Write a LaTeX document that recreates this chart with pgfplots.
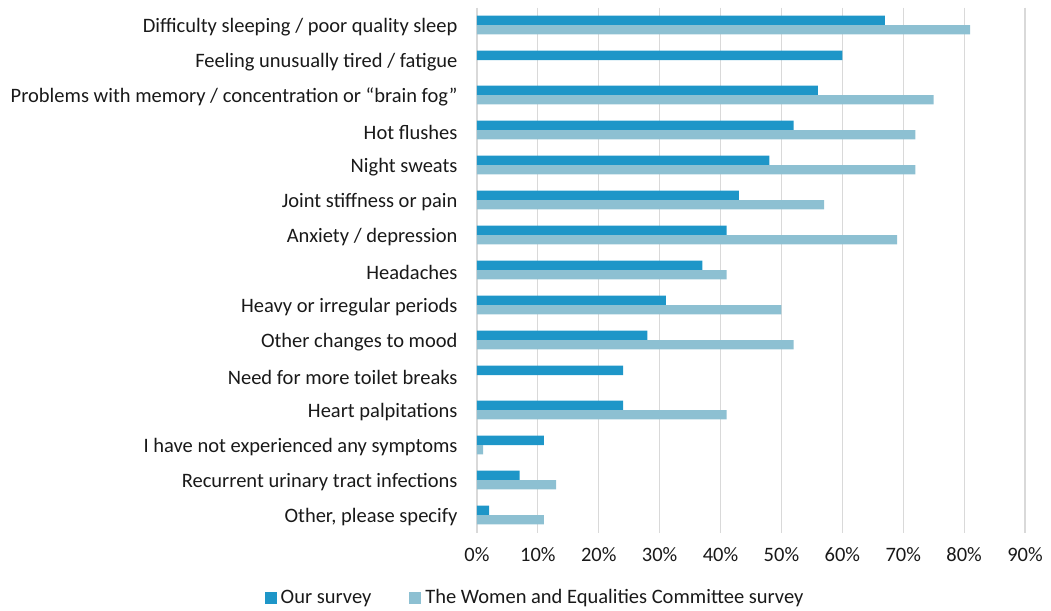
\documentclass[border=0pt]{standalone}
\usepackage{pgfplots}
\pgfplotsset{compat=1.18}
\usepackage{fontspec}
\setmainfont{Carlito}
\usetikzlibrary{calc}
\definecolor{ours}{HTML}{1E96C8}
\definecolor{wec}{HTML}{8DC0D2}
\definecolor{gridc}{HTML}{D9D9D9}
\begin{document}
\begin{tikzpicture}
\begin{axis}[
  name=ax,
  scale only axis,
  width=548pt, height=525pt,
  xmin=0, xmax=90,
  ymin=-0.5, ymax=14.5,
  y dir=reverse,
  axis line style={draw=none},
  xbar, bar width=9.3pt,
  xtick={0,10,...,90},
  xticklabel={\pgfmathprintnumber{\tick}\%},
  /pgf/number format/assume math mode=true,
  ytick={0,...,14},
  yticklabels={Difficulty sleeping / poor quality sleep, Feeling unusually tired / fatigue, Problems with memory / concentration or “brain fog”, Hot flushes, Night sweats, Joint stiffness or pain, Anxiety / depression, Headaches, Heavy or irregular periods, Other changes to mood, Need for more toilet breaks, Heart palpitations, I have not experienced any symptoms, Recurrent urinary tract infections, {Other, please specify}},
  tick label style={font=\fontsize{20.5}{24}\selectfont, text=black!90},
  yticklabel style={xshift=-16pt, yshift=-2pt},
  xticklabel style={yshift=-11pt},
  major tick length=0pt,
  xmajorgrids,
  grid style={gridc, line width=1.2pt},
  legend style={at={(0.106,-0.124)}, anchor=center, draw=none, fill=none,
    font=\fontsize{20.5}{24}\selectfont, text=black!90, legend columns=2,
    /tikz/every odd column/.append style={column sep=2pt},
    /tikz/every even column/.append style={column sep=36pt}},
  legend image code/.code={\fill[#1] (0pt,-6pt) rectangle (12pt,6pt);},
]
\addplot[fill=ours, draw=none, bar shift=4.65pt] coordinates {
(67,0) (60,1) (56,2) (52,3) (48,4) (43,5) (41,6) (37,7) (31,8) (28,9) (24,10) (24,11) (11,12) (7,13) (2,14)};
\addplot[fill=wec, draw=none, bar shift=-4.65pt] coordinates {
(81,0) (75,2) (72,3) (72,4) (57,5) (69,6) (41,7) (50,8) (52,9) (41,11) (1,12) (13,13) (11,14)};
\legend{Our survey, The Women and Equalities Committee survey}
\end{axis}
\pgfresetboundingbox
\path[use as bounding box] ($(ax.south west)+(-477pt,-77.5pt)$) rectangle ++(1051pt,610pt);
\end{tikzpicture}
\end{document}
